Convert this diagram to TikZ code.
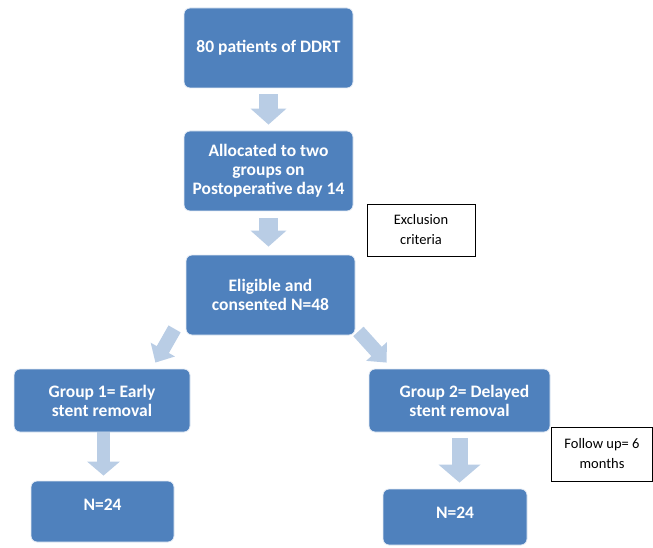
\documentclass[tikz,border=0pt]{standalone}
\usepackage{fontspec}
\setmainfont{Carlito}
\usetikzlibrary{arrows.meta}
\definecolor{boxblue}{HTML}{4F81BD}
\definecolor{arrowblue}{HTML}{B9CDE5}
\tikzset{
  stage/.style={rectangle, rounded corners=6pt, fill=boxblue, draw=white!85!boxblue,
    line width=0.8pt, text=white, align=center, inner sep=2pt,
    font=\fontsize{17.5}{19}\selectfont\bfseries},
  note/.style={rectangle, draw=black, line width=0.8pt, fill=white, align=center,
    inner sep=2pt, font=\fontsize{14.5}{20}\selectfont},
  fatarrow/.style={draw=arrowblue, line width=19pt, -{Triangle[width=35pt,length=16pt]}},
  thinarrow/.style={draw=arrowblue, line width=14pt, -{Triangle[width=27pt,length=15pt]}}
}
\begin{document}
\begin{tikzpicture}[x=1pt, y=-1pt]
  \useasboundingbox (0,0) rectangle (653,548);

  \node[stage, minimum width=169pt, minimum height=80pt] (all) at (268.5,48) {80 patients of DDRT};
  \node[stage, minimum width=169pt, minimum height=80pt] (alloc) at (268.5,171)
    {Allocated to two\\groups on\\Postoperative day 14};
  \node[stage, minimum width=169pt, minimum height=80pt] (elig) at (270.5,295)
    {Eligible and\\consented N=48};
  \node[stage, minimum width=176pt, minimum height=63pt] (early) at (102,400.5)
    {Group 1= Early\\stent removal};
  \node[stage, minimum width=181pt, minimum height=63pt] (late) at (459.5,400.5)
    {\hspace*{10pt}Group 2= Delayed\\stent removal};
  \node[stage, minimum width=143pt, minimum height=61pt, text depth=13pt] (nearly) at (102.5,511.5) {N=24};
  \node[stage, minimum width=144pt, minimum height=56pt, text depth=8pt] (nlate) at (455,517) {N=24};

  \node[note, minimum width=108pt, minimum height=52pt] (excl) at (421,230) {Exclusion\\criteria};
  \node[note, minimum width=101pt, minimum height=54pt] (follow) at (602,454) {Follow up= 6\\months};

  % flow arrows
  \draw[fatarrow, shorten <=6pt, shorten >=6pt] (all) -- (alloc);
  \draw[fatarrow, shorten <=7pt, shorten >=8pt] (alloc.south) -- (alloc.south |- elig.north);
  \draw[thinarrow] ([shift={(-11,-6.5)}]elig.south west) -- ([shift={(-35,-6)}]early.north east);
  \draw[thinarrow] ([shift={(3,-4)}]elig.south east) -- ([shift={(18,-6)}]late.north west);
  \draw[draw=arrowblue, line width=13pt, -{Triangle[width=32pt,length=14pt]}, shorten >=5pt]
    ([xshift=1.5pt]early.south) -- ([xshift=1.5pt]early.south |- nearly.north);
  \draw[draw=arrowblue, line width=16pt, -{Triangle[width=41pt,length=18pt]}, shorten <=6pt, shorten >=6pt]
    (late.south) -- (late.south |- nlate.north);
\end{tikzpicture}
\end{document}
